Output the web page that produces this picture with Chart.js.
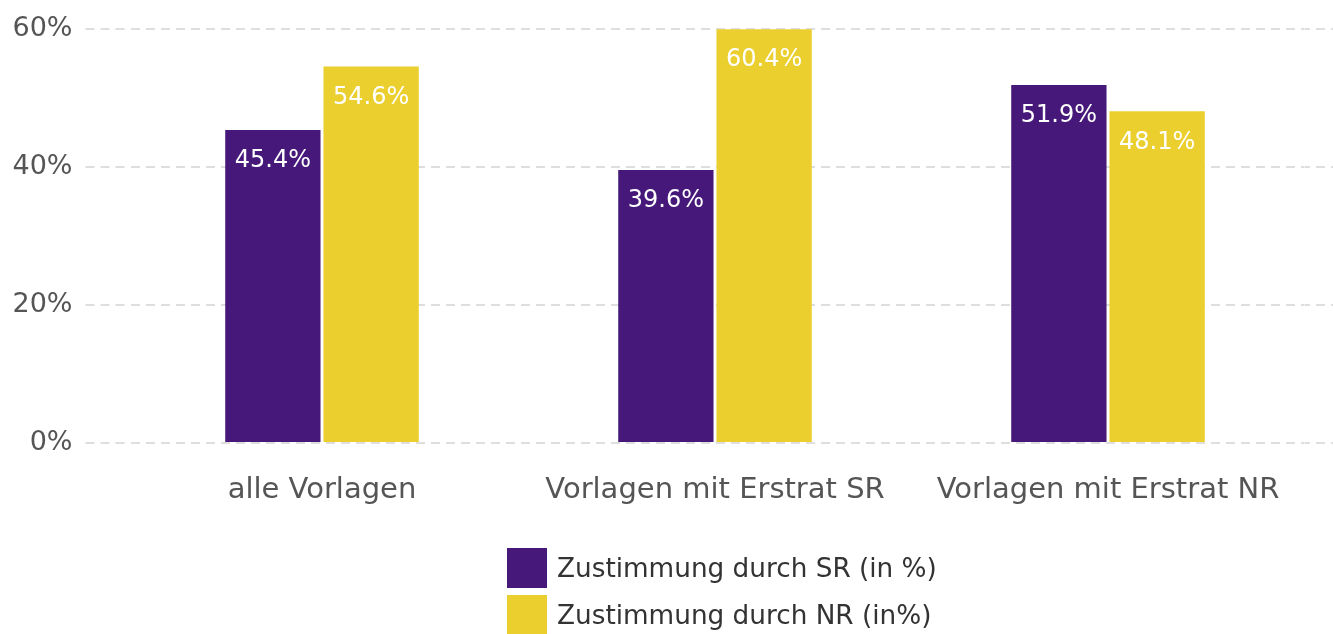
<!DOCTYPE html>
<html><head><meta charset="utf-8">
<script src="https://cdn.jsdelivr.net/npm/chart.js@4/dist/chart.umd.min.js"></script>
<style>
html,body{margin:0;padding:0;background:#fff;}
#wrap{position:relative;width:1333px;height:634px;overflow:hidden;}
#legend{position:absolute;left:507px;top:544.5px;font-family:"DejaVu Sans";font-size:26.3px;color:#333;}
.item{display:flex;align-items:center;height:47px;}
.box{width:40px;height:40px;margin-right:10px;flex:none;}
</style></head>
<body><div id="wrap"><canvas id="c" width="1333" height="634"></canvas><div id="legend"></div></div>
<script>
const categories = ["alle Vorlagen", "Vorlagen mit Erstrat SR", "Vorlagen mit Erstrat NR"];
const seriesNames = ["Zustimmung durch SR (in %)", "Zustimmung durch NR (in%)"];
const srValues = [45.4, 39.6, 51.9];
const nrValues = [54.6, 60.4, 48.1];
const yTickLabels = ["0%", "20%", "40%", "60%"];
const colors = ["#46187a", "#ebcf2f"];

const FONT = '"DejaVu Sans", sans-serif';

const valueLabels = {
  id: 'valueLabels',
  afterDatasetsDraw(chart) {
    const ctx = chart.ctx;
    ctx.save();
    ctx.font = '24px ' + FONT;
    ctx.fillStyle = '#ffffff';
    ctx.textAlign = 'center';
    ctx.textBaseline = 'middle';
    chart.data.datasets.forEach((ds, i) => {
      chart.getDatasetMeta(i).data.forEach((bar, j) => {
        const top = Math.max(bar.y, chart.chartArea.top);
        ctx.fillText(ds.data[j].toFixed(1) + '%', bar.x, top + 31);
      });
    });
    ctx.restore();
  }
};

const gridCommon = {
  color: '#dedede',
  lineWidth: 2,
  tickColor: '#dedede',
  tickWidth: 2,
  tickBorderDash: [9, 6]
};

new Chart(document.getElementById('c'), {
  type: 'bar',
  data: {
    labels: categories,
    datasets: [
      { label: seriesNames[0], data: srValues, backgroundColor: colors[0], categoryPercentage: 0.5, barPercentage: 0.97 },
      { label: seriesNames[1], data: nrValues, backgroundColor: colors[1], categoryPercentage: 0.5, barPercentage: 0.97 }
    ]
  },
  options: {
    responsive: false,
    animation: false,
    devicePixelRatio: 1,
    layout: { padding: { top: 25, bottom: 111, left: 0, right: 0 } },
    plugins: { legend: { display: false }, tooltip: { enabled: false } },
    scales: {
      x: {
        grid: { display: false },
        border: { display: false },
        ticks: { color: '#555', font: { family: FONT, size: 29 }, padding: 22, maxRotation: 0 },
        afterFit(s) { s.height = 80; }
      },
      y: {
        min: 0, max: 60,
        border: { display: false, dash: [9, 6], dashOffset: 10 },
        grid: Object.assign({ drawTicks: true, tickLength: 40 }, gridCommon),
        ticks: {
          stepSize: 20, color: '#555', padding: 13,
          font: { family: FONT, size: 27 },
          callback: (v) => yTickLabels[v / 20]
        },
        afterFit(s) { s.width = 125.5; }
      },
      y2: {
        position: 'right',
        min: 0, max: 60,
        border: { display: false, dash: [9, 6] },
        grid: Object.assign({ drawOnChartArea: false, drawTicks: true, tickLength: 29, tickBorderDashOffset: 4 }, gridCommon),
        ticks: { stepSize: 20, display: false },
        afterFit(s) { s.width = 28.5; }
      }
    }
  },
  plugins: [valueLabels]
});

const legendEl = document.getElementById('legend');
seriesNames.forEach((name, i) => {
  const item = document.createElement('div');
  item.className = 'item';
  const box = document.createElement('span');
  box.className = 'box';
  box.style.background = colors[i];
  const txt = document.createElement('span');
  txt.textContent = name;
  item.appendChild(box);
  item.appendChild(txt);
  legendEl.appendChild(item);
});
</script>
</body></html>
